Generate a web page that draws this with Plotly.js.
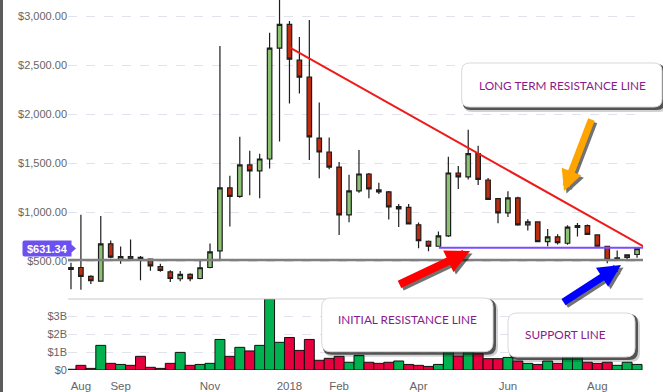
<!DOCTYPE html>
<html><head><meta charset="utf-8">
<script src="https://cdn.plot.ly/plotly-3.0.1.min.js"></script>
<style>
html,body{margin:0;padding:0;background:#fff;overflow:hidden}
#chart{width:663px;height:392px}
#edge{position:absolute;left:0;top:0;width:3px;height:392px;background:#5b5b5b}
</style>
</head><body><div id="chart"></div><div id="edge"></div>
<script>
// ---------- DATA ----------
const weeks = ["2017-07-31","2017-08-07","2017-08-14","2017-08-21","2017-08-28","2017-09-04","2017-09-11","2017-09-18","2017-09-25","2017-10-02",
"2017-10-09","2017-10-16","2017-10-23","2017-10-30","2017-11-06","2017-11-13","2017-11-20","2017-11-27","2017-12-04","2017-12-11",
"2017-12-18","2017-12-25","2018-01-01","2018-01-08","2018-01-15","2018-01-22","2018-01-29","2018-02-05","2018-02-12","2018-02-19",
"2018-02-26","2018-03-05","2018-03-12","2018-03-19","2018-03-26","2018-04-02","2018-04-09","2018-04-16","2018-04-23","2018-04-30",
"2018-05-07","2018-05-14","2018-05-21","2018-05-28","2018-06-04","2018-06-11","2018-06-18","2018-06-25","2018-07-02","2018-07-09",
"2018-07-16","2018-07-23","2018-07-30","2018-08-06","2018-08-13","2018-08-20","2018-08-27","2018-09-03"];
const openP  = [419,439,348,300,680,523,551,541,525,449,395,324,368,327,439,609,1249,1164,1483,1422,1544,2672,2915,2550,2377,1757,1615,1462,975,1219,1391,1229,1208,1036,1052,873,706,655,761,1401,1361,1598,1330,1140,995,1147,873,903,703,751,686,846,866,771,655,517,541,571];
const highP  = [487,975,360,964,713,652,724,555,530,476,410,402,381,520,683,2695,1374,1770,1628,1598,2830,3300,2950,2787,2960,2119,1763,1513,1384,1635,1401,1303,1219,1086,1086,896,713,805,1567,1473,1842,1679,1351,1145,1215,1160,930,910,832,778,869,893,876,775,660,612,570,645];
const lowP   = [218,212,270,295,534,476,520,310,405,395,290,300,300,320,430,517,856,1150,1174,1143,1448,1722,2109,2210,1534,1347,1440,771,900,1200,1143,1188,927,852,878,635,605,650,750,1239,1336,1280,1125,889,954,865,815,700,655,673,670,754,770,650,483,515,517,538];
const closeP = [439,348,304,680,544,551,525,520,456,409,327,368,324,436,598,1249,1164,1483,1422,1544,2672,2915,2560,2377,1770,1615,1462,975,1219,1391,1239,1208,1056,1059,883,713,655,761,1401,1361,1598,1336,1133,995,1147,873,903,703,751,693,849,866,777,655,517,538,568,631.34];
const volumeB = [0.04,0.26,0.09,1.37,0.37,0.31,0.26,0.76,0.15,0.09,0.37,0.98,0.26,0.31,0.37,1.70,0.76,1.26,1.06,1.37,3.95,1.54,1.81,1.09,1.70,0.54,0.65,0.76,0.43,0.81,0.43,0.37,0.43,0.50,0.31,0.26,0.20,0.31,1.60,0.78,1.40,0.93,0.63,0.63,0.70,0.50,0.37,0.31,0.50,0.37,1.00,1.00,0.43,0.37,0.43,0.26,0.43,0.31];
const tickMonths = ["2017-08","2017-09","2017-11","2018-01","2018-02","2018-04","2018-06","2018-08"];
const tickLabels = ["Aug","Sep","Nov","2018","Feb","Apr","Jun","Aug"];
const priceTicks = [500,1000,1500,2000,2500,3000];
const volumeTicks = [0,1,2,3];
const volumeTickLabels = ["$0","$1B","$2B","$3B"];
const supportLevel = 515;
const initialResistance = {fromIndex: 37.05, level: 640};
const longTermResistance = {fromIndex: 22.1, fromPrice: 2675, toIndex: 57.8, toPrice: 645};
const lastPriceLabel = "$631.34";
const noteLong = "LONG TERM RESISTANCE LINE";
const noteInitial = "INITIAL RESISTANCE LINE";
const noteSupport = "SUPPORT LINE";

// ---------- LAYOUT GEOMETRY ----------
const W=663, H=392, ML=68, MR=20, MT=0, MB=22;
const PW=W-ML-MR, PH=H-MT-MB;
const SPLIT = 1 - 299/PH;
const px = x => (x-ML)/PW;
const py = y => 1-(y-MT)/PH;

const tickVals = tickMonths.map(m => weeks.find(w => w.startsWith(m)));
const priceTickText = priceTicks.map(v => '$' + v.toLocaleString('en-US', {minimumFractionDigits:2, maximumFractionDigits:2}));
const lastClose = closeP[closeP.length-1];

const GREEN_C = '#8cc274', RED_C = '#be2d10';
const volColors = closeP.map((c,i) => c >= openP[i] ? '#00b14f' : '#e6003d');

const traces = [
  {type:'candlestick', x:weeks, open:openP, high:highP, low:lowP, close:closeP,
   xaxis:'x', yaxis:'y', whiskerwidth:0, hoverinfo:'skip',
   increasing:{fillcolor:GREEN_C, line:{color:'#1e1e1e', width:1.2}},
   decreasing:{fillcolor:RED_C, line:{color:'#1e1e1e', width:1.2}}},
  {type:'bar', x:weeks, y:volumeB, xaxis:'x', yaxis:'y2', width:1, hoverinfo:'skip',
   marker:{color:volColors, line:{color:'#111', width:1}}}
];

function roundRect(x0,y0,x1,y1,r){
  const P=(x,y)=>px(x).toFixed(5)+','+py(y).toFixed(5);
  return 'M'+P(x0+r,y0)+' L'+P(x1-r,y0)+' Q'+P(x1,y0)+' '+P(x1,y0+r)+
         ' L'+P(x1,y1-r)+' Q'+P(x1,y1)+' '+P(x1-r,y1)+
         ' L'+P(x0+r,y1)+' Q'+P(x0,y1)+' '+P(x0,y1-r)+
         ' L'+P(x0,y0+r)+' Q'+P(x0,y0)+' '+P(x0+r,y0)+' Z';
}
function noteBox(x0,y0,x1,y1,r){
  return [
    {type:'path', xref:'paper', yref:'paper', path:roundRect(x0+2,y0+3,x1+5,y1+5,r), fillcolor:'rgba(0,0,0,0.18)', line:{width:0}},
    {type:'path', xref:'paper', yref:'paper', path:roundRect(x0+1,y0+1,x1+3,y1+3,r), fillcolor:'rgba(30,30,30,0.7)', line:{width:0}},
    {type:'path', xref:'paper', yref:'paper', path:roundRect(x0,y0,x1,y1,r), fillcolor:'#ffffff', line:{color:'#d9d9d9', width:1}}
  ];
}
function arrow(tipX,tipY,tailX,tailY,color,w){
  const base = {xref:'paper', yref:'paper', axref:'pixel', ayref:'pixel', showarrow:true, text:'',
    arrowhead:2, arrowsize:0.6, arrowwidth:w, standoff:0};
  return [
    Object.assign({}, base, {x:px(tipX+2.5), y:py(tipY+2.5), ax:tailX-tipX, ay:tailY-tipY, arrowcolor:'rgba(0,0,0,0.55)'}),
    Object.assign({}, base, {x:px(tipX), y:py(tipY), ax:tailX-tipX, ay:tailY-tipY, arrowcolor:color})
  ];
}

const shapes = [
  {type:'line', xref:'paper', yref:'paper', x0:0, x1:1, y0:SPLIT, y1:SPLIT, line:{color:'#c8c8c8', width:1}},
  {type:'line', xref:'paper', yref:'y', x0:0, x1:1, y0:supportLevel, y1:supportLevel, line:{color:'#808080', width:2.5}},
  {type:'line', xref:'x', yref:'y', x0:initialResistance.fromIndex, x1:weeks.length-0.2, y0:initialResistance.level, y1:initialResistance.level, line:{color:'#7b4dff', width:2}},
  {type:'line', xref:'x', yref:'y', x0:longTermResistance.fromIndex, y0:longTermResistance.fromPrice, x1:longTermResistance.toIndex, y1:longTermResistance.toPrice, line:{color:'#ee1b1b', width:2}},
  {type:'path', xref:'paper', yref:'y', xsizemode:'pixel', ysizemode:'pixel', xanchor:px(22.5), yanchor:lastClose,
   path:'M2,8 L49,8 L49,4 L53.5,0 L49,-4 L49,-8 L2,-8 Q0,-8 0,-6 L0,6 Q0,8 2,8 Z', fillcolor:'#6d50f0', line:{width:0}},
  ...noteBox(461.7,63,662,107,8),
  ...noteBox(321.7,298,493,351.7,9),
  ...noteBox(508,313,635,357,9)
];

const noteFont = {family:'Liberation Sans Narrow, Lato, sans-serif', size:11.8, color:'#8a1a8a'};
const note = (x,y,t) => ({xref:'paper', yref:'paper', x:px(x), y:py(y), xanchor:'center', yanchor:'middle', text:t, showarrow:false, font:noteFont});
const annotations = [
  ...arrow(564,191,592,118,'#ffa500',7),
  ...arrow(470,251,398,285,'#ff0000',8),
  ...arrow(621,265,562,303,'#0000ff',7.5),
  note(562,85,noteLong),
  note(407.5,319,noteInitial),
  note(565,334,noteSupport),
  {xref:'paper', yref:'y', x:px(47.5), y:lastClose, xanchor:'center', yanchor:'middle', text:'<b>'+lastPriceLabel+'</b>', showarrow:false,
   font:{family:'Liberation Sans, Arial, sans-serif', size:11, color:'#ffffff'}}
];

const tickFont = {family:'Liberation Sans, Arial, sans-serif', size:11, color:'#666666'};
const layout = {
  width:W, height:H, margin:{l:ML, r:MR, t:MT, b:MB},
  paper_bgcolor:'#ffffff', plot_bgcolor:'rgba(0,0,0,0)',
  showlegend:false, bargap:0, boxgap:0.35, dragmode:false,
  xaxis:{type:'category', range:[-0.3, weeks.length-0.4], anchor:'y2', rangeslider:{visible:false},
    tickmode:'array', tickvals:tickVals, ticktext:tickLabels, ticks:'outside', ticklen:5, tickcolor:'rgba(0,0,0,0)',
    showgrid:false, zeroline:false, showline:false, tickfont:{family:'Liberation Sans, Arial, sans-serif', size:11.5, color:'#666666'}},
  yaxis:{domain:[SPLIT,1], range:[118,3163], anchor:'x', tickmode:'array', tickvals:priceTicks, ticktext:priceTickText,
    gridcolor:'#e2e2ec', griddash:'dash', gridwidth:1, zeroline:false,
    showline:false, ticks:'', tickfont:tickFont},
  yaxis2:{domain:[0,SPLIT], range:[0,3.95], anchor:'x', tickmode:'array', tickvals:volumeTicks, ticktext:volumeTickLabels,
    gridcolor:'#e2e2ec', griddash:'dash', zeroline:false, showline:false, ticks:'', tickfont:tickFont},
  shapes:shapes, annotations:annotations
};
Plotly.newPlot('chart', traces, layout, {staticPlot:true, displayModeBar:false});
</script>
</body></html>
